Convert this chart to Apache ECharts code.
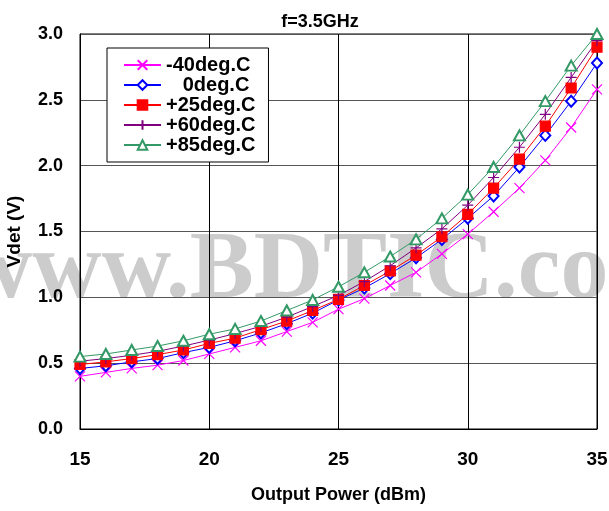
<!DOCTYPE html>
<html>
<head>
<meta charset="utf-8">
<script src="https://cdn.jsdelivr.net/npm/echarts@6/dist/echarts.min.js"></script>
<style>
  html, body { margin: 0; padding: 0; background: #fff; }
  #main { width: 609px; height: 511px; }
</style>
</head>
<body>
<div id="main"></div>
<script>
// output power, dBm
var xPower = [15, 16, 17, 18, 19, 20, 21, 22, 23, 24, 25, 26, 27, 28, 29, 30, 31, 32, 33, 34, 35]
// Vdet (V) per temperature
var vMinus40 = [0.40, 0.43, 0.46, 0.485, 0.52, 0.57, 0.62, 0.67, 0.74, 0.81, 0.91, 0.99, 1.09, 1.19, 1.33, 1.48, 1.65, 1.83, 2.04, 2.29, 2.58]
var v0 = [0.46, 0.48, 0.51, 0.535, 0.58, 0.62, 0.67, 0.73, 0.80, 0.88, 0.98, 1.07, 1.18, 1.30, 1.44, 1.60, 1.77, 1.99, 2.23, 2.49, 2.78]
var v25 = [0.49, 0.51, 0.535, 0.565, 0.60, 0.65, 0.69, 0.755, 0.82, 0.90, 0.985, 1.09, 1.20, 1.32, 1.46, 1.63, 1.83, 2.05, 2.30, 2.59, 2.90]
var v60 = [0.515, 0.535, 0.56, 0.59, 0.63, 0.675, 0.725, 0.78, 0.85, 0.93, 1.015, 1.12, 1.24, 1.375, 1.52, 1.70, 1.91, 2.14, 2.39, 2.67, 2.95]
var v85 = [0.55, 0.57, 0.60, 0.63, 0.67, 0.72, 0.76, 0.82, 0.90, 0.98, 1.08, 1.19, 1.31, 1.44, 1.60, 1.78, 1.99, 2.23, 2.49, 2.76, 3.00]
var seriesNames = ['-40deg.C', '   0deg.C', '+25deg.C', '+60deg.C', '+85deg.C']
var yTicks = ['0.0', '0.5', '1.0', '1.5', '2.0', '2.5', '3.0']

var FONT = 'Liberation Sans, Arial, sans-serif'

function pairs (ys) {
  return xPower.map(function (x, i) { return [x, ys[i]] })
}

// empty* symbols get a white fill from echarts, stroke = itemStyle.color
function mkSeries (name, ys, color, symbol, size) {
  return {
    name: name,
    type: 'line',
    data: pairs(ys),
    symbol: symbol,
    symbolSize: size,
    showAllSymbol: true,
    lineStyle: { color: color, width: 1 },
    itemStyle: { color: color, borderColor: color, borderWidth: 1.2 },
    emphasis: { disabled: true },
    animation: false
  }
}

var chart = echarts.init(document.getElementById('main'))
var option = {
  backgroundColor: '#fff',
  animation: false,
  title: {
    text: 'f=3.5GHz',
    left: 315,
    top: 8,
    textAlign: 'center',
    textStyle: { fontFamily: FONT, fontSize: 18, fontWeight: 'bold', color: '#000' }
  },
  graphic: {
    elements: [{
      type: 'text',
      z: -10,
      silent: true,
      style: {
        text: 'www.BDTIC.com',
        x: -37,
        y: 272,
        align: 'left',
        verticalAlign: 'middle',
        font: 'bold 96px "Liberation Serif", "Times New Roman", serif',
        fill: '#cccccc'
      }
    }]
  },
  grid: {
    left: 80,
    right: 12,
    top: 34,
    bottom: 82,
    outerBoundsMode: 'none',
    containLabel: false,
    show: true,
    borderColor: '#000',
    borderWidth: 1,
    backgroundColor: 'transparent'
  },
  legend: {
    orient: 'vertical',
    left: 107,
    top: 48,
    padding: [7, 13, 7, 16],
    itemGap: 0,
    itemWidth: 37,
    itemHeight: 12,
    backgroundColor: '#fff',
    borderColor: '#000',
    borderWidth: 1,
    borderRadius: 0,
    selectedMode: false,
    textStyle: { fontFamily: FONT, fontSize: 20, fontWeight: 'bold', color: '#000', lineHeight: 19 },
    data: seriesNames
  },
  xAxis: {
    type: 'value',
    min: 15,
    max: 35,
    interval: 5,
    name: 'Output Power (dBm)',
    nameLocation: 'middle',
    nameGap: 57,
    nameTextStyle: { fontFamily: FONT, fontSize: 18, fontWeight: 'bold', color: '#000' },
    axisLine: { show: true, lineStyle: { color: '#000', width: 1 } },
    axisTick: { show: false },
    axisLabel: { margin: 21, fontFamily: FONT, fontSize: 19, fontWeight: 'bold', color: '#000' },
    splitLine: { show: true, lineStyle: { color: '#000', width: 1 } }
  },
  yAxis: {
    type: 'value',
    min: 0,
    max: 3,
    interval: 0.5,
    name: 'Vdet (V)',
    nameLocation: 'middle',
    nameGap: 56,
    nameTextStyle: { fontFamily: FONT, fontSize: 19, fontWeight: 'bold', color: '#000' },
    axisLine: { show: true, lineStyle: { color: '#000', width: 1 } },
    axisTick: { show: false },
    axisLabel: {
      margin: 17,
      fontFamily: FONT,
      fontSize: 18,
      fontWeight: 'bold',
      color: '#000',
      formatter: function (v) { return yTicks[Math.round(v / 0.5)] }
    },
    splitLine: { show: true, lineStyle: { color: '#555', width: 1 } }
  },
  series: [
    mkSeries(seriesNames[0], vMinus40, '#ff00ff', 'path://M0,0L10,10M10,0L0,10', 10),
    mkSeries(seriesNames[1], v0, '#0000ff', 'emptyDiamond', [10, 11]),
    mkSeries(seriesNames[2], v25, '#ff0000', 'rect', 10),
    mkSeries(seriesNames[3], v60, '#800080', 'path://M5,0L5,10M0,5L10,5', 11),
    mkSeries(seriesNames[4], v85, '#339966', 'emptyTriangle', [11, 10])
  ]
}
chart.setOption(option)
</script>
</body>
</html>
